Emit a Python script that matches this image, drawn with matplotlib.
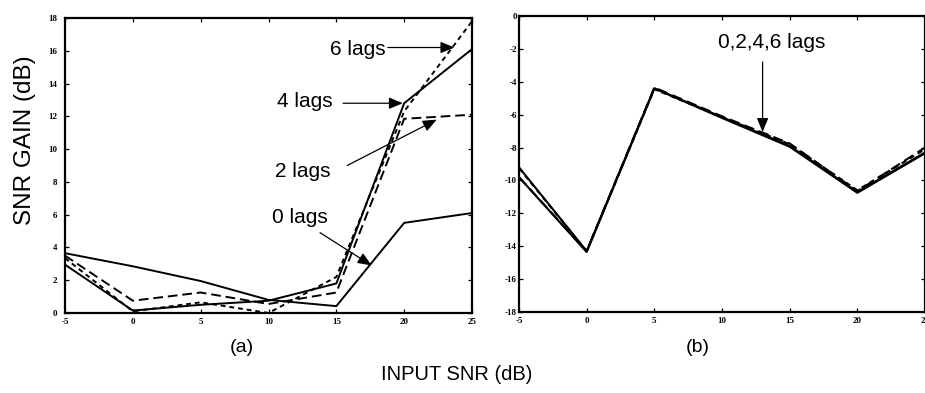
import numpy as np
import matplotlib
matplotlib.use("Agg")
import matplotlib.pyplot as plt

plt.rcParams["axes.unicode_minus"] = False

# input SNR (dB)
snr = [-5, 0, 5, 10, 15, 20, 25]

# (a) SNR gain, dB
gain_a_0 = [3.65, 2.85, 1.95, 0.8, 0.42, 5.5, 6.1]
gain_a_2 = [3.5, 0.75, 1.25, 0.55, 1.25, 11.85, 12.1]
gain_a_4 = [2.95, 0.15, 0.5, 0.75, 1.8, 12.8, 16.1]
gain_a_6 = [3.35, 0.1, 0.65, 0.0, 2.2, 12.3, 17.8]

# (b) SNR gain, dB
gain_b_0 = [-9.2, -14.3, -4.4, -6.15, -7.9, -10.7, -8.3]
gain_b_2 = [-9.8, -14.3, -4.35, -6.1, -7.75, -10.65, -8.0]
gain_b_4 = [-9.8, -14.35, -4.4, -6.2, -7.95, -10.75, -8.35]
gain_b_6 = [-9.25, -14.3, -4.45, -6.15, -7.8, -10.6, -8.1]

xticks = [-5, 0, 5, 10, 15, 20, 25]
yticks_a = [0, 2, 4, 6, 8, 10, 12, 14, 16, 18]
yticks_b = [0, -2, -4, -6, -8, -10, -12, -14, -16, -18]

sans = "Liberation Sans"
serif = "Liberation Serif"

fig = plt.figure(figsize=(9.25, 3.93), dpi=100)
ax1 = fig.add_axes([65 / 925, 1 - 313 / 393, 407 / 925, 295 / 393])
ax2 = fig.add_axes([519 / 925, 1 - 312 / 393, 406 / 925, 296 / 393])

long_dash = (0, (5, 2.5))
short_dash = (0, (2.5, 2))
lw = 1.4

ax1.plot(snr, gain_a_0, color="k", lw=lw, ls="-")
ax1.plot(snr, gain_a_2, color="k", lw=lw, ls=long_dash)
ax1.plot(snr, gain_a_4, color="k", lw=lw, ls="-")
ax1.plot(snr, gain_a_6, color="k", lw=lw, ls=short_dash)

ax2.plot(snr, gain_b_0, color="k", lw=1.5, ls="-")
ax2.plot(snr, gain_b_2, color="k", lw=1.5, ls=long_dash)
ax2.plot(snr, gain_b_4, color="k", lw=1.5, ls="-")
ax2.plot(snr, gain_b_6, color="k", lw=1.5, ls=short_dash)

ax1.set_xlim(-5, 25)
ax1.set_ylim(0, 18)
ax2.set_xlim(-5, 25)
ax2.set_ylim(-18, 0)

for ax, yt, ypad in ((ax1, yticks_a, 5.5), (ax2, yticks_b, 1.5)):
    ax.set_xticks(xticks)
    ax.set_yticks(yt)
    ax.tick_params(direction="in", length=3, width=0.9, top=True, right=True)
    ax.tick_params(axis="x", pad=3.5)
    ax.tick_params(axis="y", pad=ypad)
    for lab in ax.get_xticklabels() + ax.get_yticklabels():
        lab.set_fontfamily(serif)
        lab.set_fontweight("bold")
        lab.set_fontsize(6.5)
    for sp in ax.spines.values():
        sp.set_linewidth(1.6)

arrow = dict(arrowstyle="-|>,head_length=0.6,head_width=0.25", color="k", lw=0.9,
             mutation_scale=14, shrinkA=0, shrinkB=0)

ax1.text(16.6, 16.05, "6 lags", fontsize=15, family=sans, ha="center", va="center")
ax1.annotate("", xy=(23.7, 16.2), xytext=(18.8, 16.2), arrowprops=arrow)
ax1.text(12.7, 12.9, "4 lags", fontsize=15, family=sans, ha="center", va="center")
ax1.annotate("", xy=(19.9, 12.8), xytext=(15.5, 12.8), arrowprops=arrow)
ax1.text(12.5, 8.66, "2 lags", fontsize=15, family=sans, ha="center", va="center")
ax1.annotate("", xy=(22.4, 11.8), xytext=(15.8, 9.0), arrowprops=arrow)
ax1.text(12.3, 5.8, "0 lags", fontsize=15, family=sans, ha="center", va="center")
ax1.annotate("", xy=(17.6, 2.9), xytext=(13.8, 4.9), arrowprops=arrow)

ax2.text(13.66, -1.64, "0,2,4,6 lags", fontsize=15, family=sans, ha="center", va="center")
ax2.annotate("", xy=(13.0, -7.05), xytext=(13.0, -2.8), arrowprops=arrow)

fig.text(242 / 925, 1 - 347 / 393, "(a)", fontsize=14, family=sans, ha="center", va="center")
fig.text(698 / 925, 1 - 347 / 393, "(b)", fontsize=14, family=sans, ha="center", va="center")
fig.text(457 / 925, 1 - 375 / 393, "INPUT SNR (dB)", fontsize=14.5, family=sans,
         ha="center", va="center")
fig.text(25 / 925, 1 - 140 / 393, "SNR GAIN (dB)", fontsize=17.5, family=sans,
         rotation=90, ha="center", va="center")

fig.savefig("out.png", dpi=100)
